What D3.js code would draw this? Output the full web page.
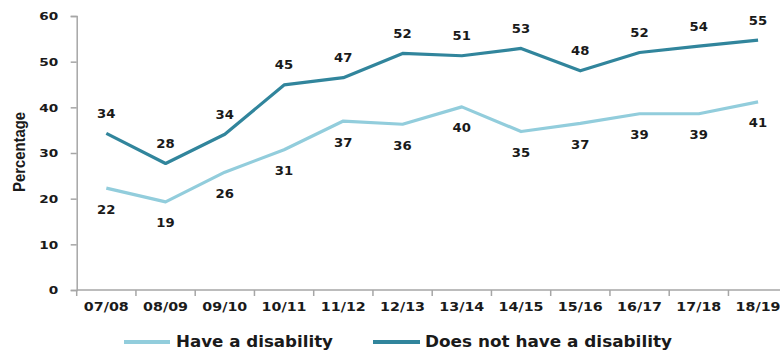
<!DOCTYPE html>
<html><head><meta charset="utf-8">
<script src="https://cdn.jsdelivr.net/npm/d3@7"></script>
<style>
body{margin:0;background:#fff;}
svg{display:block;}
text{font-family:"DejaVu Sans",Verdana,sans-serif;font-weight:bold;fill:#1a1a1a;}
</style></head>
<body><svg id="c" width="780" height="350"></svg>
<script>
const categories = ["07/08","08/09","09/10","10/11","11/12","12/13","13/14","14/15","15/16","16/17","17/18","18/19"];
const disabilityValues = [22.3,19.3,25.8,30.7,37.0,36.3,40.1,34.7,36.5,38.6,38.6,41.2];
const disabilityLabels = [22,19,26,31,37,36,40,35,37,39,39,41];
const noDisabilityValues = [34.3,27.7,34.1,44.9,46.5,51.8,51.3,52.9,48.0,52.0,53.4,54.7];
const noDisabilityLabels = [34,28,34,45,47,52,51,53,48,52,54,55];
const yTicks = [0,10,20,30,40,50,60];
const seriesNames = ["Have a disability","Does not have a disability"];

const svg = d3.select("#c");
const x = d3.scaleBand().domain(categories).range([76.7, 787.7]);
const y = d3.scaleLinear().domain([0,60]).range([290,16]);
const axisColor = "#a6a6a6";
const light = "#92cddc", dark = "#31859c";

function stretch(sel, f){
  sel.each(function(){
    const w = this.getComputedTextLength();
    d3.select(this).attr("textLength", w*f).attr("lengthAdjust","spacingAndGlyphs");
  });
}

// Y axis
const ya = svg.append("g").attr("transform","translate(76.7,0)")
  .call(d3.axisLeft(y).tickValues(yTicks).tickSize(6).tickPadding(12.5));
ya.select(".domain").attr("stroke",axisColor).attr("stroke-width",1.5);
ya.selectAll(".tick line").attr("stroke",axisColor).attr("stroke-width",1.5);
ya.selectAll(".tick text").attr("font-size",10.5).attr("dy",3.9)
  .style("font-family","DejaVu Sans").style("font-weight","bold").attr("fill","#1a1a1a")
  .call(stretch,1.3);

// X axis
const xa = svg.append("g").attr("transform","translate(0,290)")
  .call(d3.axisBottom(x).tickSize(0).tickPadding(0));
xa.select(".domain").remove();
xa.selectAll(".tick text").attr("font-size",11.6).attr("y",21).attr("dy",0)
  .style("font-family","DejaVu Sans").style("font-weight","bold").attr("fill","#1a1a1a")
  .call(stretch,1.23);
svg.append("line").attr("x1",x.range()[0]).attr("x2",x.range()[1])
  .attr("y1",290).attr("y2",290).attr("stroke",axisColor).attr("stroke-width",1.5);
const bounds = categories.map(c=>x(c)).concat([x.range()[1]]);
svg.selectAll("line.xt").data(bounds).join("line").attr("class","xt")
  .attr("x1",d=>d).attr("x2",d=>d).attr("y1",290).attr("y2",296)
  .attr("stroke",axisColor).attr("stroke-width",1.5);

// Y title
svg.append("text").attr("transform","translate(25,152) rotate(-90)")
  .attr("text-anchor","middle")
  .style("font-family","'Liberation Sans Narrow','Liberation Sans',Arial,sans-serif")
  .attr("font-size",16.5).text("Percentage")
  .attr("textLength",80).attr("lengthAdjust","spacingAndGlyphs");

const cx = c => x(c) + x.bandwidth()/2;
const line = d3.line().x(d=>cx(d.c)).y(d=>y(d.v));

function series(vals, labels, color, offset){
  const data = categories.map((c,i)=>({c, v:vals[i], l:labels[i]}));
  svg.append("path").datum(data).attr("d",line).attr("fill","none")
    .attr("stroke",color).attr("stroke-width",3.2).attr("stroke-linejoin","round");
  svg.append("g").selectAll("text").data(data).join("text")
    .attr("x",d=>cx(d.c)).attr("y",d=>y(d.v)+offset+4.5)
    .attr("text-anchor","middle").attr("font-size",12).text(d=>d.l)
    .call(stretch,1.1);
}
series(disabilityValues, disabilityLabels, light, 21);
series(noDisabilityValues, noDisabilityLabels, dark, -20);

// Legend
const leg = [
  {name:seriesNames[0], color:light, x1:124, x2:170, tx:176, w:157},
  {name:seriesNames[1], color:dark, x1:373, x2:420, tx:425, w:247}
];
leg.forEach(l=>{
  svg.append("line").attr("x1",l.x1).attr("x2",l.x2).attr("y1",342).attr("y2",342)
    .attr("stroke",l.color).attr("stroke-width",4);
  svg.append("text").attr("x",l.tx).attr("y",346.5).attr("font-size",16)
    .text(l.name).attr("textLength",l.w).attr("lengthAdjust","spacingAndGlyphs");
});
</script></body></html>
